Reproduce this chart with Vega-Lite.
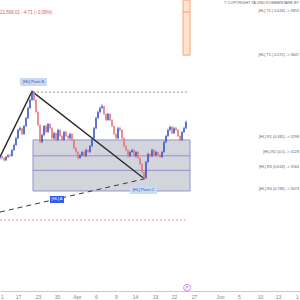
{
  "$schema": "https://vega.github.io/schema/vega-lite/v6.json",
  "width": 300,
  "height": 291,
  "autosize": "none",
  "padding": {"left": 0, "top": 0, "right": 0, "bottom": 9},
  "background": "white",
  "config": {"view": {"stroke": null}, "font": "Liberation Sans"},
  "datasets": {
    "candles": [
      {"t":0,"o":3218,"c":3227,"h":3232,"l":3212},
      {"t":2,"o":3227,"c":3218,"h":3230,"l":3212},
      {"t":4,"o":3218,"c":3209,"h":3222,"l":3203},
      {"t":6,"o":3209,"c":3223,"h":3228,"l":3205},
      {"t":8,"o":3223,"c":3231,"h":3236,"l":3219},
      {"t":10,"o":3231,"c":3227,"h":3238,"l":3222},
      {"t":12,"o":3227,"c":3254,"h":3258,"l":3224},
      {"t":14,"o":3254,"c":3276,"h":3282,"l":3250},
      {"t":16,"o":3276,"c":3306,"h":3312,"l":3272},
      {"t":18,"o":3306,"c":3342,"h":3348,"l":3302},
      {"t":20,"o":3342,"c":3350,"h":3358,"l":3336},
      {"t":22,"o":3350,"c":3324,"h":3354,"l":3318},
      {"t":24,"o":3324,"c":3359,"h":3364,"l":3320},
      {"t":26,"o":3359,"c":3395,"h":3400,"l":3354},
      {"t":28,"o":3395,"c":3439,"h":3445,"l":3390},
      {"t":30,"o":3439,"c":3474,"h":3480,"l":3434},
      {"t":32,"o":3474,"c":3509,"h":3513,"l":3470},
      {"t":34,"o":3509,"c":3474,"h":3512,"l":3468},
      {"t":36,"o":3474,"c":3421,"h":3478,"l":3415},
      {"t":38,"o":3421,"c":3364,"h":3426,"l":3358},
      {"t":40,"o":3364,"c":3289,"h":3368,"l":3282},
      {"t":42,"o":3289,"c":3320,"h":3326,"l":3284},
      {"t":44,"o":3320,"c":3359,"h":3364,"l":3314},
      {"t":46,"o":3359,"c":3333,"h":3366,"l":3328},
      {"t":48,"o":3333,"c":3368,"h":3374,"l":3328},
      {"t":50,"o":3368,"c":3350,"h":3372,"l":3344},
      {"t":52,"o":3350,"c":3306,"h":3355,"l":3300},
      {"t":54,"o":3306,"c":3328,"h":3334,"l":3300},
      {"t":56,"o":3328,"c":3298,"h":3332,"l":3292},
      {"t":58,"o":3298,"c":3342,"h":3348,"l":3294},
      {"t":60,"o":3342,"c":3315,"h":3346,"l":3310},
      {"t":62,"o":3315,"c":3298,"h":3320,"l":3292},
      {"t":64,"o":3298,"c":3333,"h":3338,"l":3294},
      {"t":66,"o":3333,"c":3315,"h":3340,"l":3310},
      {"t":68,"o":3315,"c":3306,"h":3322,"l":3300},
      {"t":70,"o":3306,"c":3324,"h":3330,"l":3300},
      {"t":72,"o":3324,"c":3298,"h":3328,"l":3292},
      {"t":74,"o":3298,"c":3262,"h":3302,"l":3256},
      {"t":76,"o":3262,"c":3245,"h":3268,"l":3238},
      {"t":78,"o":3245,"c":3218,"h":3250,"l":3212},
      {"t":80,"o":3218,"c":3231,"h":3236,"l":3214},
      {"t":82,"o":3231,"c":3245,"h":3250,"l":3226},
      {"t":84,"o":3245,"c":3227,"h":3250,"l":3222},
      {"t":86,"o":3227,"c":3254,"h":3260,"l":3222},
      {"t":88,"o":3254,"c":3245,"h":3258,"l":3240},
      {"t":90,"o":3245,"c":3271,"h":3276,"l":3240},
      {"t":92,"o":3271,"c":3306,"h":3312,"l":3266},
      {"t":94,"o":3306,"c":3350,"h":3355,"l":3302},
      {"t":96,"o":3350,"c":3395,"h":3400,"l":3345},
      {"t":98,"o":3395,"c":3421,"h":3428,"l":3390},
      {"t":100,"o":3421,"c":3439,"h":3445,"l":3415},
      {"t":102,"o":3439,"c":3447,"h":3456,"l":3434},
      {"t":104,"o":3447,"c":3412,"h":3450,"l":3406},
      {"t":106,"o":3412,"c":3386,"h":3416,"l":3380},
      {"t":108,"o":3386,"c":3412,"h":3418,"l":3382},
      {"t":110,"o":3412,"c":3386,"h":3415,"l":3380},
      {"t":112,"o":3386,"c":3359,"h":3390,"l":3354},
      {"t":114,"o":3359,"c":3324,"h":3362,"l":3318},
      {"t":116,"o":3324,"c":3306,"h":3328,"l":3300},
      {"t":118,"o":3306,"c":3350,"h":3356,"l":3302},
      {"t":120,"o":3350,"c":3342,"h":3358,"l":3336},
      {"t":122,"o":3342,"c":3306,"h":3346,"l":3300},
      {"t":124,"o":3306,"c":3271,"h":3310,"l":3266},
      {"t":126,"o":3271,"c":3254,"h":3276,"l":3248},
      {"t":128,"o":3254,"c":3227,"h":3258,"l":3220},
      {"t":130,"o":3227,"c":3245,"h":3250,"l":3222},
      {"t":132,"o":3245,"c":3254,"h":3260,"l":3240},
      {"t":134,"o":3254,"c":3227,"h":3258,"l":3222},
      {"t":136,"o":3227,"c":3245,"h":3250,"l":3220},
      {"t":138,"o":3245,"c":3218,"h":3248,"l":3212},
      {"t":140,"o":3218,"c":3192,"h":3222,"l":3186},
      {"t":142,"o":3192,"c":3157,"h":3196,"l":3150},
      {"t":144,"o":3157,"c":3130,"h":3160,"l":3126},
      {"t":146,"o":3130,"c":3201,"h":3206,"l":3126},
      {"t":148,"o":3201,"c":3236,"h":3242,"l":3196},
      {"t":150,"o":3236,"c":3227,"h":3240,"l":3220},
      {"t":152,"o":3227,"c":3254,"h":3260,"l":3222},
      {"t":154,"o":3254,"c":3231,"h":3258,"l":3226},
      {"t":156,"o":3231,"c":3245,"h":3250,"l":3226},
      {"t":158,"o":3245,"c":3231,"h":3248,"l":3226},
      {"t":160,"o":3231,"c":3223,"h":3236,"l":3218},
      {"t":162,"o":3223,"c":3245,"h":3250,"l":3218},
      {"t":164,"o":3245,"c":3289,"h":3294,"l":3240},
      {"t":166,"o":3289,"c":3315,"h":3320,"l":3284},
      {"t":168,"o":3315,"c":3342,"h":3348,"l":3310},
      {"t":170,"o":3342,"c":3355,"h":3362,"l":3336},
      {"t":172,"o":3355,"c":3328,"h":3360,"l":3322},
      {"t":174,"o":3328,"c":3350,"h":3356,"l":3324},
      {"t":176,"o":3350,"c":3342,"h":3356,"l":3336},
      {"t":178,"o":3342,"c":3315,"h":3346,"l":3310},
      {"t":180,"o":3315,"c":3298,"h":3320,"l":3292},
      {"t":182,"o":3298,"c":3333,"h":3338,"l":3294},
      {"t":184,"o":3333,"c":3350,"h":3356,"l":3328},
      {"t":186,"o":3350,"c":3377,"h":3384,"l":3346}
    ]
  },
  "encoding": {
    "x": {"field": "t", "type": "quantitative", "scale": {"domain": [0, 300], "nice": false, "zero": false},
      "axis": {"title": null, "values": [2,18,38,57,77,96,116,135,155,174,194,220,239,260,278,297],
        "labelExpr": "['1','17','23','30','Apr','6','9','14','19','22','27','Jun','5','10','13','1'][indexof([2,18,38,57,77,96,116,135,155,174,194,220,239,260,278,297], datum.value)]",
        "ticks": false, "grid": false, "domainColor": "#c8cad0", "domainWidth": 1, "labelColor": "#80838d", "labelFontSize": 5, "labelPadding": 3, "labelFont": "Liberation Sans", "labelFlush": false, "labelOverlap": false}},
    "y": {"type": "quantitative", "scale": {"domain": [2632, 3915], "nice": false, "zero": false}, "axis": null}
  },
  "layer": [
    {"data": {"values": [{"p": 3880}]}, "mark": {"type": "rule", "color": "#e6e8ee", "strokeWidth": 1}, "encoding": {"y": {"field": "p", "type": "quantitative"}, "x": {"datum": 0}, "x2": {"datum": 300}}},
    {"data": {"values": [{"t0": 33, "t1": 190, "p0": 3298, "p1": 3073}]}, "mark": {"type": "rect", "fill": "#d3d5dc", "stroke": "#8f95c8", "strokeWidth": 1}, "encoding": {"x": {"field": "t0", "type": "quantitative"}, "x2": {"field": "t1"}, "y": {"field": "p0", "type": "quantitative"}, "y2": {"field": "p1"}}},
    {"data": {"values": [{"t0": 33, "t1": 190, "p": 3228}, {"t0": 33, "t1": 190, "p": 3164}]}, "mark": {"type": "rule", "color": "#9a8cc6", "strokeWidth": 1}, "encoding": {"x": {"field": "t0", "type": "quantitative"}, "x2": {"field": "t1"}, "y": {"field": "p", "type": "quantitative"}}},
    {"data": {"values": [{"t0": 183, "t1": 190, "p0": 3915, "p1": 3672}]}, "mark": {"type": "rect", "fill": "#fde3cf", "stroke": "#f4a870", "strokeWidth": 1}, "encoding": {"x": {"field": "t0", "type": "quantitative"}, "x2": {"field": "t1"}, "y": {"field": "p0", "type": "quantitative"}, "y2": {"field": "p1"}}},
    {"data": {"values": [{"t0": 183, "t1": 190, "p": 3862}]}, "mark": {"type": "rule", "color": "#f0a070", "strokeWidth": 1}, "encoding": {"x": {"field": "t0", "type": "quantitative"}, "x2": {"field": "t1"}, "y": {"field": "p", "type": "quantitative"}}},
    {"data": {"values": [{"t0": 33, "t1": 188, "p": 3509}]}, "mark": {"type": "rule", "color": "#9598a1", "strokeWidth": 1, "strokeDash": [2, 2]}, "encoding": {"x": {"field": "t0", "type": "quantitative"}, "x2": {"field": "t1"}, "y": {"field": "p", "type": "quantitative"}}},
    {"data": {"values": [{"t0": 0, "t1": 188, "p": 2945}]}, "mark": {"type": "rule", "color": "#f48fb1", "strokeWidth": 1, "strokeDash": [2, 2]}, "encoding": {"x": {"field": "t0", "type": "quantitative"}, "x2": {"field": "t1"}, "y": {"field": "p", "type": "quantitative"}}},
    {"data": {"values": [{"t": 0, "p": 2980}, {"t": 145, "p": 3127}]}, "mark": {"type": "line", "color": "#3a3a3a", "strokeWidth": 1, "strokeDash": [5, 4]}, "encoding": {"x": {"field": "t", "type": "quantitative"}, "y": {"field": "p", "type": "quantitative"}}},
    {"data": {"values": [{"t": 0, "p": 3223, "k": 1}, {"t": 32, "p": 3512, "k": 2}, {"t": 144, "p": 3128, "k": 3}]}, "mark": {"type": "line", "color": "#2a2a2a", "strokeWidth": 1.4}, "encoding": {"x": {"field": "t", "type": "quantitative"}, "y": {"field": "p", "type": "quantitative"}, "order": {"field": "k"}}},
    {"data": {"name": "candles"}, "mark": {"type": "rule", "strokeWidth": 0.7}, "encoding": {"x": {"field": "t", "type": "quantitative"}, "y": {"field": "l", "type": "quantitative"}, "y2": {"field": "h"}, "color": {"condition": {"test": "datum.c >= datum.o", "value": "#3a55c0"}, "value": "#e8737b"}}},
    {"data": {"name": "candles"}, "mark": {"type": "rule", "strokeWidth": 1.4}, "encoding": {"x": {"field": "t", "type": "quantitative"}, "y": {"field": "o", "type": "quantitative"}, "y2": {"field": "c"}, "color": {"condition": {"test": "datum.c >= datum.o", "value": "#3a55c0"}, "value": "#e8737b"}}},
    {"data": {"values": [{"t0": 20, "t1": 47, "p0": 3571, "p1": 3536}, {"t0": 130, "t1": 157, "p0": 3095, "p1": 3060}]}, "mark": {"type": "rect", "fill": "#cbd9f7"}, "encoding": {"x": {"field": "t0", "type": "quantitative"}, "x2": {"field": "t1"}, "y": {"field": "p0", "type": "quantitative"}, "y2": {"field": "p1"}}},
    {"data": {"values": [{"t": 33.5, "p": 3553, "label": "[HL] Point  B"}, {"t": 143.5, "p": 3077, "label": "[HL] Point  C"}]}, "mark": {"type": "text", "fontSize": 4, "color": "#3b5598", "align": "center", "baseline": "middle"}, "encoding": {"x": {"field": "t", "type": "quantitative"}, "y": {"field": "p", "type": "quantitative"}, "text": {"field": "label"}}},
    {"data": {"values": [{"t0": 50, "t1": 64, "p0": 3051, "p1": 3020}]}, "mark": {"type": "rect", "fill": "#2f5cf0"}, "encoding": {"x": {"field": "t0", "type": "quantitative"}, "x2": {"field": "t1"}, "y": {"field": "p0", "type": "quantitative"}, "y2": {"field": "p1"}}},
    {"data": {"values": [{"t": 57, "p": 3036, "label": "[HL] A"}]}, "mark": {"type": "text", "fontSize": 4, "color": "#ffffff", "align": "center", "baseline": "middle"}, "encoding": {"x": {"field": "t", "type": "quantitative"}, "y": {"field": "p", "type": "quantitative"}, "text": {"field": "label"}}},
    {"data": {"values": [
      {"t": 299, "p": 3867, "label": "[HL] T2 ( 0.618) -> 3855"},
      {"t": 299, "p": 3673, "label": "[HL] T1 ( 0.272) -> 3647"},
      {"t": 299, "p": 3311, "label": "[HL] R1 (0.382) -> 3298"},
      {"t": 299, "p": 3245, "label": "[HL] R2 (0.5) -> 3228"},
      {"t": 299, "p": 3178, "label": "[HL] R3 (0.618) -> 3164"},
      {"t": 299, "p": 3082, "label": "[HL] R4 (0.786) -> 3073"}
    ]}, "mark": {"type": "text", "fontSize": 3.8, "color": "#5d606b", "align": "right", "baseline": "middle"}, "encoding": {"x": {"field": "t", "type": "quantitative"}, "y": {"field": "p", "type": "quantitative"}, "text": {"field": "label"}}},
    {"data": {"values": [{"t": 299, "p": 3902, "label": "© COPYRIGHT TA UND KOMMENTARE BY"}]}, "mark": {"type": "text", "fontSize": 3.8, "color": "#5d606b", "align": "right", "baseline": "middle"}, "encoding": {"x": {"field": "t", "type": "quantitative"}, "y": {"field": "p", "type": "quantitative"}, "text": {"field": "label"}}},
    {"data": {"values": [{"t": 0, "p": 3857, "label": "21.568,01  −4,71 (−0,08%)"}]}, "mark": {"type": "text", "fontSize": 4.5, "color": "#d9605a", "align": "left", "baseline": "middle"}, "encoding": {"x": {"field": "t", "type": "quantitative"}, "y": {"field": "p", "type": "quantitative"}, "text": {"field": "label"}}},
    {"data": {"values": [{"t": 187, "p": 2647}]}, "mark": {"type": "point", "shape": "circle", "size": 45, "stroke": "#a33fc7", "strokeWidth": 0.8, "fill": "#ffffff", "filled": false}, "encoding": {"x": {"field": "t", "type": "quantitative"}, "y": {"field": "p", "type": "quantitative"}}},
    {"data": {"values": [{"t": 187, "p": 2647, "label": "P"}]}, "mark": {"type": "text", "fontSize": 4, "color": "#a33fc7", "align": "center", "baseline": "middle"}, "encoding": {"x": {"field": "t", "type": "quantitative"}, "y": {"field": "p", "type": "quantitative"}, "text": {"field": "label"}}}
  ]
}
